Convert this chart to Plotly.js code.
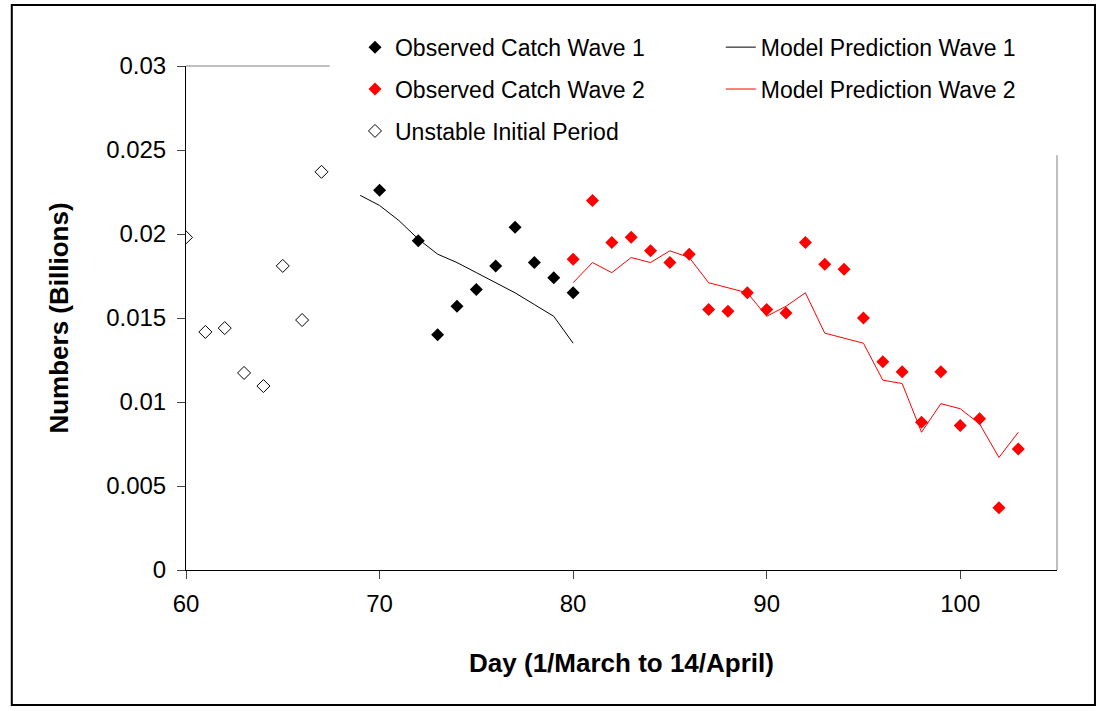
<!DOCTYPE html>
<html>
<head>
<script src="https://cdn.plot.ly/plotly-3.0.1.min.js"></script>
<style>body{margin:0}</style>
</head>
<body>
<div id="chart" style="width:1100px;height:711px"></div>
<script>
var unstableDays = [60, 61, 62, 63, 64, 65, 66, 67];
var unstableVals = [0.0198, 0.01417, 0.0144, 0.01173, 0.01095, 0.0181, 0.01488, 0.0237];

var obs1Days = [70, 72, 73, 74, 75, 76, 77, 78, 79, 80];
var obs1Vals = [0.0226, 0.0196, 0.0140, 0.0157, 0.0167, 0.0181, 0.0204, 0.0183, 0.0174, 0.0165];

var model1Days = [69, 70, 71, 72, 73, 74, 75, 76, 77, 78, 79, 80];
var model1Vals = [0.0223, 0.0217, 0.0208, 0.0197, 0.0188, 0.0183, 0.0177, 0.0171, 0.0165, 0.0158, 0.0151, 0.0135];

var obs2Days = [80, 81, 82, 83, 84, 85, 86, 87, 88, 89, 90, 91, 92, 93, 94, 95, 96, 97, 98, 99, 100, 101, 102, 103];
var obs2Vals = [0.0185, 0.0220, 0.0195, 0.0198, 0.0190, 0.0183, 0.0188, 0.0155, 0.0154, 0.0165, 0.0155, 0.0153,
                0.0195, 0.0182, 0.0179, 0.0150, 0.0124, 0.0118, 0.0088, 0.0118, 0.0086, 0.0090, 0.0037, 0.0072];

var model2Days = obs2Days;
var model2Vals = [0.0171, 0.0183, 0.0177, 0.0186, 0.0183, 0.0190, 0.0186, 0.0171, 0.0168, 0.0165, 0.0151, 0.0157,
                  0.0165, 0.0141, 0.0138, 0.0135, 0.0113, 0.0111, 0.0082, 0.0099, 0.0096, 0.0087, 0.0067, 0.0082];

var data = [
  {x: obs1Days, y: obs1Vals, mode: "markers", type: "scatter", name: "Observed Catch Wave 1",
   marker: {symbol: "diamond", size: 10, color: "black"}, legend: "legend", legendgroup: "a"},
  {x: obs2Days, y: obs2Vals, mode: "markers", type: "scatter", name: "Observed Catch Wave 2",
   marker: {symbol: "diamond", size: 10, color: "red"}, legend: "legend", legendgroup: "b"},
  {x: unstableDays, y: unstableVals, mode: "markers", type: "scatter", name: "Unstable Initial Period",
   marker: {symbol: "diamond-open", size: 10, color: "black", line: {width: 1}}, legend: "legend", legendgroup: "c"},
  {x: model1Days, y: model1Vals, mode: "lines", type: "scatter", name: "Model Prediction Wave 1",
   line: {color: "black", width: 1}, legend: "legend2", legendgroup: "d"},
  {x: model2Days, y: model2Vals, mode: "lines", type: "scatter", name: "Model Prediction Wave 2",
   line: {color: "red", width: 1}, legend: "legend2", legendgroup: "e"}
];

var font = "Liberation Sans, Arial, sans-serif";
var legFont = {size: 23, family: font};
var layout = {
  width: 1100, height: 711,
  margin: {l: 186, r: 43, t: 66, b: 141},
  paper_bgcolor: "white", plot_bgcolor: "white",
  font: {family: font, color: "black", size: 24},
  showlegend: true,
  legend: {x: 0.194, y: 1.08, xanchor: "left", yanchor: "top", bgcolor: "white", font: legFont, tracegroupgap: 9},
  legend2: {x: 0.614, y: 1.08, xanchor: "left", yanchor: "top", bgcolor: "white", font: legFont, tracegroupgap: 9},
  xaxis: {range: [60, 105], dtick: 10, tick0: 60, showgrid: false, zeroline: false,
          showline: true, linecolor: "black", ticks: "outside", ticklen: 8, ticklabelstandoff: 4,
          title: {text: "<b>Day (1/March to 14/April)</b>", font: {size: 26}, standoff: 38}},
  yaxis: {range: [0, 0.03], dtick: 0.005, showgrid: false, zeroline: false,
          showline: true, linecolor: "black", ticks: "outside", ticklen: 8, ticklabelstandoff: 6,
          title: {text: "<b>Numbers (Billions)</b>", font: {size: 26}, standoff: 30}},
  shapes: [
    {type: "line", xref: "paper", yref: "paper", x0: 0, x1: 0.165, y0: 1, y1: 1, line: {color: "gray", width: 1}},
    {type: "line", xref: "paper", yref: "paper", x0: 1, x1: 1, y0: 0, y1: 0.823, line: {color: "gray", width: 1}},
    {type: "rect", xref: "paper", yref: "paper", x0: -0.2, x1: 1.0436, y0: -0.268, y1: 1.121,
     line: {color: "black", width: 2}}
  ]
};

Plotly.newPlot("chart", data, layout, {displayModeBar: false});
</script>
</body>
</html>
